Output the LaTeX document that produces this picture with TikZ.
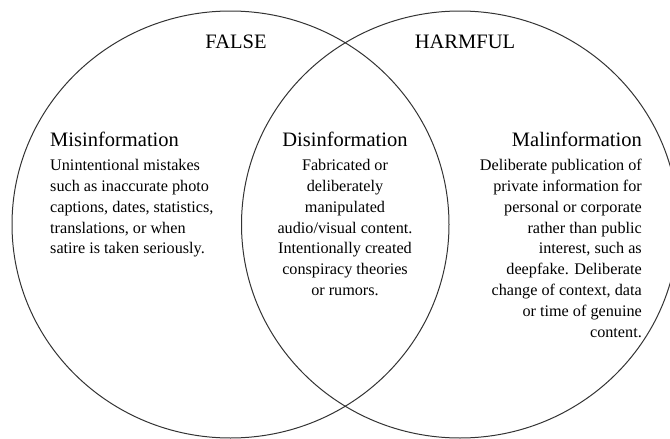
\documentclass[tikz,border=0pt]{standalone}
\usepackage{fontspec}
\setmainfont{Liberation Serif}
\usetikzlibrary{shapes.geometric}
\begin{document}
\begin{tikzpicture}[x=1pt,y=-1pt,
  ring/.style={ellipse,draw=black!80,line width=1pt,minimum width=437pt,minimum height=427pt,inner sep=0pt},
  title/.style={inner sep=0pt,font=\rmfamily\fontsize{20.5}{24}\selectfont,text=black},
  body/.style={inner sep=0pt,font=\rmfamily\fontsize{16.2}{20.8}\selectfont,text=black}]
\clip (0,0) rectangle (670,439);
\node[ring] (left) at (230.5,224.5) {};
\node[ring] (right) at (460,224.5) {};
\node[title,anchor=base] (false) at (236,48) {FALSE};
\node[title,anchor=base] (harmful) at (465,48) {HARMFUL};
\node[title,anchor=base west] (misT) at (50,146.5) {Misinformation};
\node[body,anchor=north west,align=left] (misB) at (50,156) {\strut Unintentional mistakes\\such as inaccurate photo\\captions, dates, statistics,\\translations, or when\\satire is taken seriously.};
\node[title,anchor=base] (disT) at (345,146.5) {Disinformation};
\node[body,anchor=north,align=center] (disB) at (345,156) {\strut Fabricated or\\deliberately\\manipulated\\audio/visual content.\\Intentionally created\\conspiracy theories\\or rumors.};
\node[title,anchor=base east] (malT) at (642,146.5) {Malinformation};
\node[body,anchor=north east,align=right] (malB) at (642,156) {\strut Deliberate publication of\\private information for\\personal or corporate\\rather than public\\interest, such as\\deepfake. Deliberate\\change of context, data\\or time of genuine\\content.};
\end{tikzpicture}
\end{document}
